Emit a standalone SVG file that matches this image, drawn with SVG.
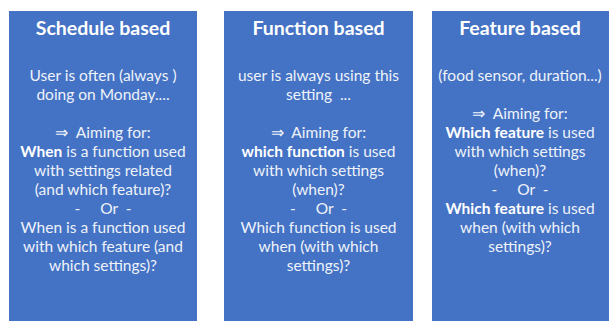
<svg xmlns="http://www.w3.org/2000/svg" width="611" height="321" viewBox="0 0 611 321">
  <style>
    .panel { fill: #4472c4; }
    .title { font-family: Lato, "Open Sans", "Liberation Sans", sans-serif; font-weight: bold; font-size: 19.5px; fill: #ffffff; text-anchor: middle; }
    .body { font-family: Lato, "Open Sans", "Liberation Sans", sans-serif; font-size: 15.5px; fill: #eef2fa; text-anchor: middle; white-space: pre; }
    .b { font-weight: bold; fill: #ffffff; }
  </style>
  <rect width="611" height="321" fill="#ffffff"/>

  <!-- Schedule based -->
  <g id="schedule-based">
    <rect class="panel" x="9" y="11" width="188" height="310"/>
    <text class="title" x="103" y="35">Schedule based</text>
    <text class="body" x="103" y="81">User is often (always )</text>
    <text class="body" x="103" y="100">doing on Monday....</text>
    <text class="body" x="103" y="138">⇒  Aiming for:</text>
    <text class="body" x="103" y="157"><tspan class="b">When</tspan> is a function used</text>
    <text class="body" x="103" y="176">with settings related</text>
    <text class="body" x="103" y="195">(and which feature)?</text>
    <text class="body" x="103" y="214">-     Or  -</text>
    <text class="body" x="103" y="233">When is a function used</text>
    <text class="body" x="103" y="252">with which feature (and</text>
    <text class="body" x="103" y="271">which settings)?</text>
  </g>

  <!-- Function based -->
  <g id="function-based">
    <rect class="panel" x="224" y="11" width="189" height="310"/>
    <text class="title" x="318.5" y="35">Function based</text>
    <text class="body" x="318.5" y="81">user is always using this</text>
    <text class="body" x="318.5" y="100">setting  ...</text>
    <text class="body" x="318.5" y="138">⇒  Aiming for:</text>
    <text class="body" x="318.5" y="157"><tspan class="b">which function</tspan> is used</text>
    <text class="body" x="318.5" y="176">with which settings</text>
    <text class="body" x="318.5" y="195">(when)?</text>
    <text class="body" x="318.5" y="214">-     Or  -</text>
    <text class="body" x="318.5" y="233">Which function is used</text>
    <text class="body" x="318.5" y="252">when (with which</text>
    <text class="body" x="318.5" y="271">settings)?</text>
  </g>

  <!-- Feature based -->
  <g id="feature-based">
    <rect class="panel" x="432" y="11" width="177" height="310"/>
    <text class="title" x="520" y="35">Feature based</text>
    <text class="body" x="520" y="81">(food sensor, duration...)</text>
    <text class="body" x="520" y="119">⇒  Aiming for:</text>
    <text class="body" x="520" y="138"><tspan class="b">Which feature</tspan> is used</text>
    <text class="body" x="520" y="157">with which settings</text>
    <text class="body" x="520" y="176">(when)?</text>
    <text class="body" x="520" y="195">-     Or  -</text>
    <text class="body" x="520" y="214"><tspan class="b">Which feature</tspan> is used</text>
    <text class="body" x="520" y="233">when (with which</text>
    <text class="body" x="520" y="252">settings)?</text>
  </g>
</svg>
